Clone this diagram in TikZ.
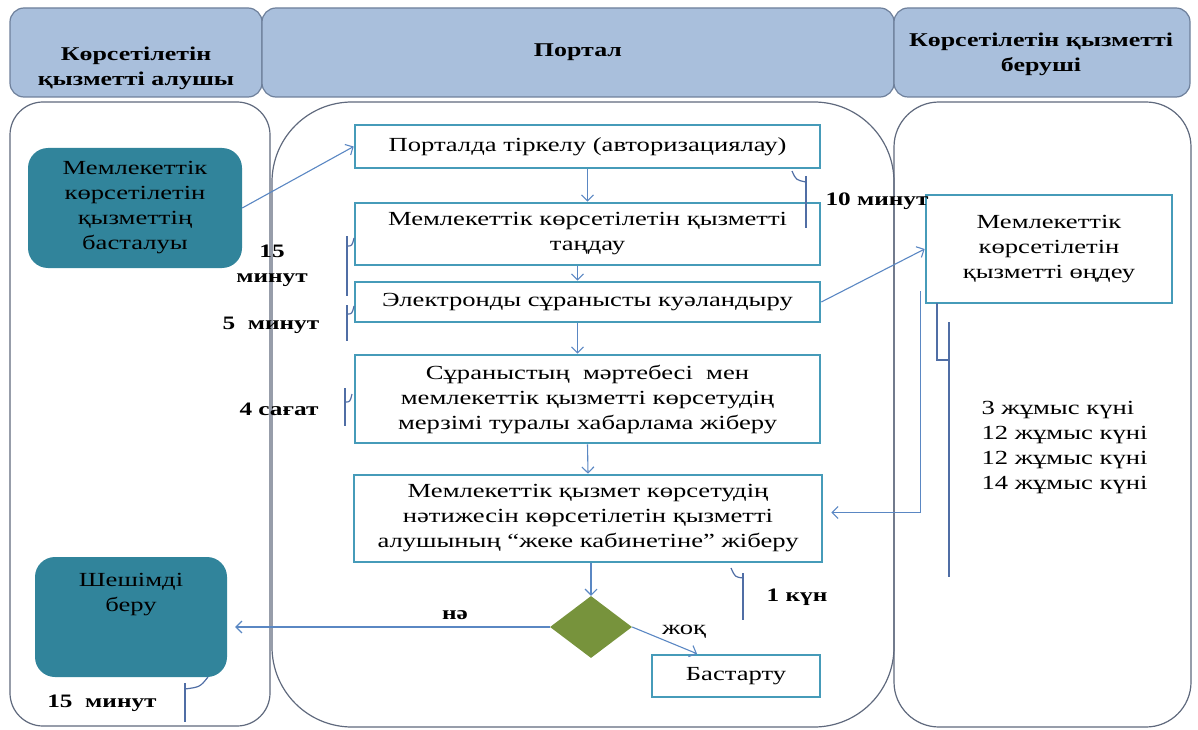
\documentclass[tikz,border=0pt]{standalone}
\usepackage{fontspec}
\setmainfont{Liberation Serif}[FakeStretch=1.33]
\usetikzlibrary{arrows.meta,shapes.geometric}
\definecolor{hdrfill}{RGB}{169,191,220}
\definecolor{hdrline}{RGB}{110,128,155}
\definecolor{laneline}{RGB}{95,105,125}
\definecolor{boxline}{RGB}{70,155,185}
\definecolor{tealfill}{RGB}{49,132,155}
\definecolor{olive}{RGB}{119,147,60}
\definecolor{arrcol}{RGB}{90,135,195}
\definecolor{brkcol}{RGB}{80,110,165}
\begin{document}
\begin{tikzpicture}[x=1pt,y=-1pt,
  txt/.style={font=\fontsize{20}{25}\selectfont, align=center, text=black},
  hdr/.style={draw=hdrline, fill=hdrfill, line width=1.2pt, rounded corners=14pt},
  lane/.style={draw=laneline, line width=1.2pt},
  stepbox/.style={draw=boxline, line width=2.6pt, fill=white, txt, inner sep=2pt},
  startbox/.style={fill=tealfill, rounded corners=20pt, txt},
  arr/.style={draw=arrcol, line width=1.1pt, -{Straight Barb[length=6pt,width=12pt]}},
  brk/.style={draw=brkcol, line width=1.2pt},
  lbl/.style={font=\fontsize{19}{25}\selectfont\bfseries, align=center, text=black}
]
\useasboundingbox (0,0) rectangle (1198,730);
% headers
\draw[hdr] (10,8) rectangle (262,97);
\draw[hdr] (262,8) rectangle (894,97);
\draw[hdr] (894,8) rectangle (1190,97);
\node[txt, font=\fontsize{19.5}{25}\selectfont\bfseries] (h1) at (136,68) {Көрсетілетін\\қызметті алушы};
\node[txt, font=\fontsize{19.5}{25}\selectfont\bfseries] (h2) at (578,52) {Портал};
\node[txt, font=\fontsize{19.5}{25}\selectfont\bfseries] (h3) at (1041,54) {Көрсетілетін қызметті\\беруші};
% lanes
\draw[lane, rounded corners=33pt] (10,102) rectangle (270,726);
\draw[lane, rounded corners=80pt] (272,102) rectangle (894,727);
\draw[lane, rounded corners=45pt] (894,102) rectangle (1191,727);
% nodes
\node[startbox, minimum width=214pt, minimum height=120pt] (start) at (135,208) {Мемлекеттік\\көрсетілетін\\қызметтің\\басталуы};
\node[startbox, minimum width=192pt, minimum height=120pt] (sh) at (131,617) {};
\node[txt] (shtxt) at (131,595) {Шешімді\\беру};
\node[stepbox, minimum width=465pt, minimum height=43pt] (b1) at (587.5,146.5) {Порталда тіркелу (авторизациялау)};
\node[stepbox, minimum width=465pt, minimum height=62pt] (b2) at (587.5,234) {Мемлекеттік көрсетілетін қызметті\\таңдау};
\node[stepbox, minimum width=465pt, minimum height=40pt] (b3) at (587.5,302) {Электронды сұранысты куәландыру};
\node[stepbox, minimum width=465pt, minimum height=88pt] (b4) at (587.5,399) {Сұраныстың\ \ мәртебесі\ \ мен\\мемлекеттік қызметті көрсетудің\\мерзімі туралы хабарлама жіберу};
\node[stepbox, minimum width=468pt, minimum height=87pt] (b5) at (588,518.5) {Мемлекеттік қызмет көрсетудің\\нәтижесін көрсетілетін қызметті\\алушының “жеке кабинетіне” жіберу};
\node[diamond, fill=olive, minimum width=82pt, minimum height=62pt, inner sep=0pt] (dia) at (591,627) {};
\node[stepbox, minimum width=168pt, minimum height=42pt] (bas) at (736,676) {Бастарту};
\node[stepbox, minimum width=246pt, minimum height=108pt] (rb) at (1049,249) {Мемлекеттік\\көрсетілетін\\қызметті өңдеу};
% connectors
\draw[arr] (start.east) -- (b1.west);
\draw[arr] (b1.south) -- (b2.north);
\draw[arr] ([xshift=-10pt]b2.south) -- ([xshift=-10pt]b3.north);
\draw[arr] ([xshift=-10pt]b3.south) -- ([xshift=-10pt]b4.north);
\draw[arr] (b4.south) -- (b5.north);
\draw[arr] ([xshift=3pt]b5.south) -- (dia.north);
\draw[arr] (b3.east) -- (rb.west);
\draw[arr, shorten >=8pt] ([xshift=-4pt,yshift=13pt]rb.south west) |- ([yshift=6pt]b5.east);
\draw[arr, shorten >=8pt] (dia.west) -- (dia.west -| sh.east);
\draw[arr] (dia.east) -- ([xshift=-39pt]bas.north);
% labels
\node[lbl] (ne) at (455,615) {нә};
\node[txt] (zhok) at (684,632) {жоқ};
% brackets and times
\draw[brk] (792,171) .. controls (796,180) .. (806,182);
\draw[brk] (806,176) -- (806,228);
\node[lbl] (t10) at (877,201) {10 минут};
\draw[brk] (347,236) -- (347,296);
\draw[brk] (347,246) .. controls (352,246) .. (354,238);
\node[lbl] (t15a) at (272,266) {15\\ минут};
\draw[brk] (347,305) -- (347,341);
\draw[brk] (347,314) .. controls (352,314) .. (354,306);
\node[lbl] (t5) at (271,325) {5\ \ минут};
\draw[brk] (345,388) -- (345,426);
\draw[brk] (345,402) .. controls (350,402) .. (352,394);
\node[lbl] (t4) at (279,409) {4 сағат};
\draw[brk] (731,568) .. controls (735,577) .. (743,578);
\draw[brk] (743,573) -- (743,620);
\node[lbl] (t1) at (797,597) {1 күн};
\draw[brk] (185,683) -- (185,722);
\draw[brk] (185,689) .. controls (200,687) .. (208,677);
\node[lbl] (t15b) at (102,703) {15\ \ минут};
\draw[brk] (937,303) -- (937,360) -- (949,360);
\draw[brk] (949,322) -- (949,577);
\node[txt, align=left, anchor=north west] (days) at (978,398) {3 жұмыс күні\\12 жұмыс күні\\12 жұмыс күні\\14 жұмыс күні};
\end{tikzpicture}
\end{document}
